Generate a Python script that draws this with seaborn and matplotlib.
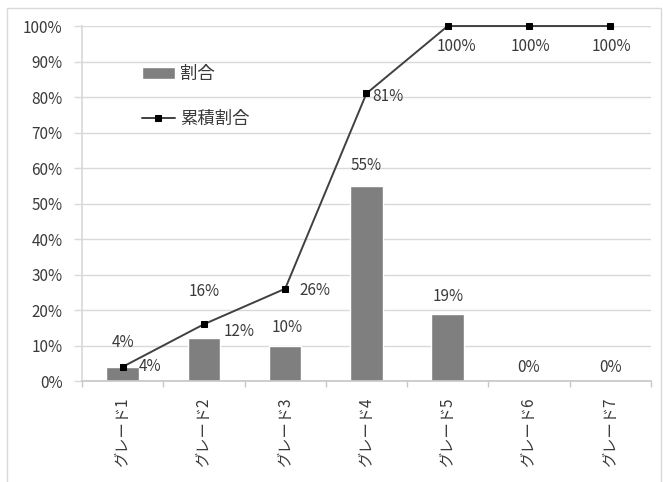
import numpy as np
import pandas as pd
import matplotlib
matplotlib.use("Agg")
import matplotlib.pyplot as plt
from matplotlib.patches import Rectangle
import seaborn as sns

# Grade distribution: share per grade and cumulative share (percent)
grades = ["グレード1", "グレード2", "グレード3", "グレード4", "グレード5", "グレード6", "グレード7"]
share = [4, 12, 10, 55, 19, 0, 0]
cumulative = [4, 16, 26, 81, 100, 100, 100]
y_ticks = [0, 10, 20, 30, 40, 50, 60, 70, 80, 90, 100]

sns.set_theme(style="white")
plt.rcParams["font.family"] = ["Noto Sans CJK JP", "DejaVu Sans"]

TEXT = "#3a3a3a"
GRID = "#d9d9d9"
BAR = "#7f7f7f"
FS = 11

df = pd.DataFrame({"grade": grades, "share": share, "cumulative": cumulative})

fig = plt.figure(figsize=(6.63, 4.82), dpi=100)
ax = fig.add_axes([0.1237, 0.2095, 0.858, 0.7365])

# chart-area frame
fig.add_artist(Rectangle((7 / 663, -0.05), 654 / 663, 1 - 8 / 482 + 0.05,
                         transform=fig.transFigure, fill=False,
                         edgecolor=GRID, linewidth=1.0))

sns.barplot(data=df, x="grade", y="share", color=BAR, saturation=1,
            width=0.40, ax=ax, label="割合", zorder=2)
sns.lineplot(x=np.arange(len(grades)), y=df["cumulative"], ax=ax,
             color="#404040", linewidth=1.4, marker="s", markersize=5,
             markerfacecolor="black", markeredgecolor="black",
             label="累積割合", zorder=3, clip_on=False)

ax.set_xlim(-0.5, len(grades) - 0.5)
ax.set_ylim(0, 100)
ax.set_yticks(y_ticks)
ax.set_yticklabels([f"{v}%" for v in y_ticks])
ax.set_xticks(np.arange(len(grades)))
ax.set_xticklabels(grades, rotation=90)
ax.set_xticks(np.arange(len(grades) + 1) - 0.5, minor=True)
ax.set_xlabel("")
ax.set_ylabel("")

ax.yaxis.grid(True, color=GRID, linewidth=1.0, zorder=0)
ax.set_axisbelow(True)
for s in ["top", "right"]:
    ax.spines[s].set_visible(False)
ax.spines["left"].set_color(GRID)
ax.spines["bottom"].set_color("#c8c8c8")

ax.tick_params(axis="y", left=True, length=6, width=1, color=GRID,
               labelsize=FS, labelcolor=TEXT, pad=8)
ax.tick_params(axis="x", which="major", bottom=False, labelsize=FS,
               labelcolor=TEXT, pad=6)
ax.tick_params(axis="x", which="minor", bottom=True, length=4, width=1,
               color="#c8c8c8")

# data labels (offsets in pixels)
bar_offsets = [(27, 0), (35, 7), (2, 18), (0, 20), (0, 17), (0, 14), (0, 14)]
line_offsets = [(0, 24), (0, 33), (30, -2), (21, -3), (9, -20), (1, -20), (1, -20)]
for i, (v, c) in enumerate(zip(share, cumulative)):
    ax.annotate(f"{v}%", (i, v), xytext=bar_offsets[i], textcoords="offset pixels",
                ha="center", va="center", fontsize=FS, color=TEXT)
    ax.annotate(f"{c}%", (i, c), xytext=line_offsets[i], textcoords="offset pixels",
                ha="center", va="center", fontsize=FS, color=TEXT,
                annotation_clip=False)

handles, labels = ax.get_legend_handles_labels()
order = [labels.index("割合"), labels.index("累積割合")]
leg = ax.legend([handles[i] for i in order], [labels[i] for i in order],
                loc="upper left", bbox_to_anchor=(0.093, 0.91), frameon=False,
                fontsize=12.5, labelspacing=1.55, handlelength=1.9,
                handletextpad=0.3, borderaxespad=0)
for t in leg.get_texts():
    t.set_color(TEXT)

fig.savefig("out.png", dpi=100)
